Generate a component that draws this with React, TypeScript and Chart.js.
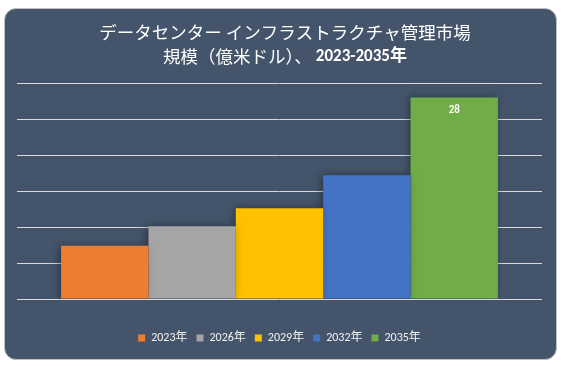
import React, { useEffect, useRef } from "react";
import { Chart, registerables } from "chart.js";

Chart.register(...registerables);

const categories = [""];
const seriesNames = ["2023年", "2026年", "2029年", "2032年", "2035年"];
const seriesValues = [7.4, 10.1, 12.6, 17.2, 28];
const seriesColors = ["#ED7D31", "#A5A5A5", "#FFC000", "#4472C4", "#70AD47"];
const labeledSeries = [false, false, false, false, true];
const titleLine1 = "データセンター インフラストラクチャ管理市場";
const titleLine2a = "規模（億米ドル）、";
const titleLine2b = "2023-2035年";
const yMax = 30;
const yStep = 5;

const FONT = 'Calibri, "Noto Sans", "Noto Sans CJK JP", sans-serif';
const JFONT = '"Noto Sans CJK JP", "Noto Sans", sans-serif';

const titlePlugin = {
  id: "customTitle",
  afterDraw(chart: any) {
    const ctx = chart.ctx;
    const cx = 280;
    ctx.save();
    ctx.fillStyle = "#FFFFFF";
    ctx.textBaseline = "middle";
    ctx.textAlign = "left";
    ctx.font = `17.5px ${JFONT}`;
    const w1 = ctx.measureText(titleLine1).width;
    ctx.fillText(titleLine1, cx - w1 / 2, 23.5);
    const wa = ctx.measureText(titleLine2a).width;
    ctx.font = `bold 17px ${FONT}`;
    const wb = ctx.measureText(titleLine2b).width;
    const gap = 4;
    const start = cx - (wa + gap + wb) / 2;
    ctx.font = `17.5px ${JFONT}`;
    ctx.fillText(titleLine2a, start, 47.5);
    ctx.font = `bold 17px ${FONT}`;
    ctx.fillText(titleLine2b, start + wa + gap, 47.5);
    ctx.restore();
  },
};

const labelPlugin = {
  id: "barLabels",
  afterDatasetsDraw(chart: any) {
    const ctx = chart.ctx;
    ctx.save();
    ctx.fillStyle = "#FFFFFF";
    ctx.font = `bold 11px ${FONT}`;
    ctx.textAlign = "center";
    ctx.textBaseline = "middle";
    chart.data.datasets.forEach((ds: any, i: number) => {
      if (!labeledSeries[i]) return;
      const meta = chart.getDatasetMeta(i);
      meta.data.forEach((bar: any, j: number) => {
        ctx.fillText(String(ds.data[j]), bar.x, bar.y + 13);
      });
    });
    ctx.restore();
  },
};

const shadowPlugin = {
  id: "barShadow",
  beforeDatasetsDraw(chart: any) {
    const ctx = chart.ctx;
    ctx.save();
    ctx.shadowColor = "rgba(0,0,0,0.35)";
    ctx.shadowBlur = 8;
    ctx.shadowOffsetX = -2;
    ctx.shadowOffsetY = 0;
  },
  afterDatasetsDraw(chart: any) {
    chart.ctx.restore();
  },
};

export default function App() {
  const ref = useRef<HTMLCanvasElement | null>(null);
  useEffect(() => {
    if (!ref.current) return;
    const chart = new Chart(ref.current, {
      type: "bar",
      data: {
        labels: categories,
        datasets: seriesNames.map((n, i) => ({
          label: n,
          data: [seriesValues[i]],
          backgroundColor: seriesColors[i],
          borderWidth: 0,
          barPercentage: 1,
          categoryPercentage: 0.832,
        })),
      },
      options: {
        animation: false,
        responsive: false,
        maintainAspectRatio: false,
        layout: { padding: { left: 12, right: 14, top: 74, bottom: 5 } },
        plugins: {
          title: { display: false },
          tooltip: { enabled: false },
          legend: {
            display: true,
            position: "bottom",
            labels: {
              color: "#F2F2F2",
              boxWidth: 7,
              boxHeight: 7,
              padding: 9,
              font: { size: 12, family: FONT },
            },
          },
        },
        scales: {
          x: {
            display: true,
            grid: { display: false },
            border: { display: false },
            ticks: { display: false },
            afterFit: (s: any) => {
              s.height = 24;
            },
          },
          y: {
            display: true,
            min: 0,
            max: yMax,
            ticks: { display: false, stepSize: yStep },
            grid: { color: "#D9D9D9", lineWidth: 1, drawTicks: false },
            border: { display: false },
          },
        },
      } as any,
      plugins: [shadowPlugin, labelPlugin, titlePlugin],
    });
    return () => chart.destroy();
  }, []);

  return (
    <div style={{ position: "fixed", left: 0, top: 0, width: 561, height: 366, background: "#FFFFFF" }}>
      <div
        style={{
          position: "absolute",
          left: 4,
          top: 8,
          width: 551,
          height: 350,
          border: "1px solid #BFBFBF",
          borderRadius: 12,
          background: "#44546A",
          overflow: "hidden",
        }}
      >
        <canvas ref={ref} width={551} height={350} style={{ display: "block" }} />
      </div>
    </div>
  );
}
